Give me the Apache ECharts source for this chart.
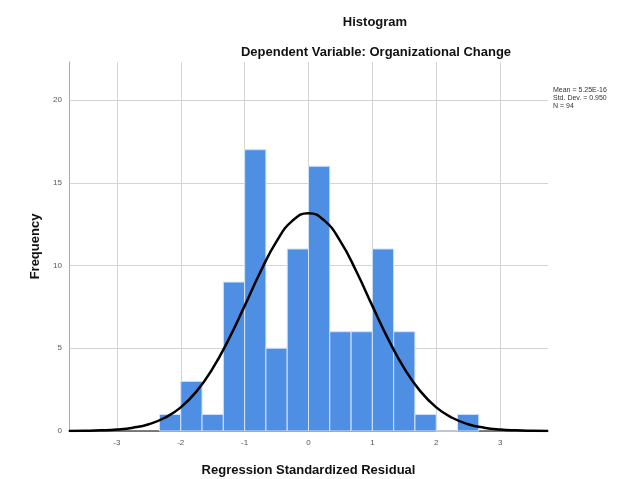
<!DOCTYPE html>
<html><head><meta charset="utf-8">
<script src="https://cdn.jsdelivr.net/npm/echarts@6/dist/echarts.min.js"></script>
<style>html,body{margin:0;padding:0;background:#fff}#c{width:631px;height:479px}</style>
</head><body><div id="c"></div>
<script>
// Histogram bins (lower edges), bin width and counts
const binStarts = [-2.333, -2.0, -1.667, -1.333, -1.0, -0.667, -0.333, 0.0, 0.333, 0.667, 1.0, 1.333, 1.667, 2.0, 2.333];
const binWidth = 0.333;
const counts = [1, 3, 1, 9, 17, 5, 11, 16, 6, 6, 11, 6, 1, 0, 1];
// Normal curve
const curveX = [-3.75,-3.5,-3.25,-3,-2.75,-2.5,-2.25,-2,-1.75,-1.5,-1.25,-1,-0.75,-0.5,-0.25,0,0.25,0.5,0.75,1,1.25,1.5,1.75,2,2.25,2.5,2.75,3,3.25,3.5,3.75];
const curveY = [0.005,0.015,0.038,0.09,0.2,0.41,0.8,1.43,2.41,3.78,5.54,7.56,9.64,11.46,12.71,13.16,12.71,11.46,9.64,7.56,5.54,3.78,2.41,1.43,0.8,0.41,0.2,0.09,0.038,0.015,0.005];
const xTicks = [-3, -2, -1, 0, 1, 2, 3];
const yTicks = [0, 5, 10, 15, 20];
const statsText = ['Mean = 5.25E-16', 'Std. Dev. = 0.950', 'N = 94'];

const chart = echarts.init(document.getElementById('c'), null, {renderer: 'canvas'});
const font = 'Liberation Sans, Arial, sans-serif';
chart.setOption({
  animation: false,
  backgroundColor: '#fff',
  title: [
    {text: 'Histogram', left: 370, top: 11, textAlign: 'center',
     textStyle: {fontFamily: font, fontSize: 13, fontWeight: 'bold', color: '#111'}},
    {text: 'Dependent Variable: Organizational Change', left: 371, top: 41, textAlign: 'center',
     textStyle: {fontFamily: font, fontSize: 13, fontWeight: 'bold', color: '#111'}}
  ],
  grid: {left: 69, right: 83, top: 62, bottom: 48, outerBoundsMode: 'none', containLabel: false},
  xAxis: {
    type: 'value', min: -3.75, max: 3.75,
    name: 'Regression Standardized Residual', nameLocation: 'middle', nameGap: 33,
    nameTextStyle: {fontFamily: font, fontSize: 13, fontWeight: 'bold', color: '#111'},
    axisLine: {show: true, onZero: false, lineStyle: {color: '#555', width: 1.5}},
    axisTick: {show: false, customValues: xTicks},
    axisLabel: {customValues: xTicks, fontFamily: font, fontSize: 8, color: '#555', margin: 8,
      formatter: v => String(v)},
    splitLine: {show: true, lineStyle: {color: '#d4d4d4', width: 1}}
  },
  yAxis: {
    type: 'value', min: 0, max: 22.3,
    name: 'Frequency', nameLocation: 'middle', nameGap: 25, nameRotate: 90,
    nameTextStyle: {fontFamily: font, fontSize: 13, fontWeight: 'bold', color: '#111'},
    axisLine: {show: true, onZero: false, lineStyle: {color: '#aaa', width: 1}},
    axisTick: {show: false, customValues: yTicks},
    axisLabel: {customValues: yTicks, fontFamily: font, fontSize: 8, color: '#555', margin: 7},
    splitLine: {show: true, lineStyle: {color: '#d4d4d4', width: 1}}
  },
  graphic: [
    {type: 'text', left: 553, top: 86,
     style: {text: statsText.join('\n'), fontFamily: font, fontSize: 7, lineHeight: 8, fill: '#333'}}
  ],
  series: [
    {
      type: 'custom',
      data: binStarts.map((s, i) => [s, s + binWidth, counts[i]]),
      encode: {x: [0, 1], y: 2},
      renderItem: function (params, api) {
        const p0 = api.coord([api.value(0), api.value(2)]);
        const p1 = api.coord([api.value(1), 0]);
        return {
          type: 'rect',
          shape: {x: p0[0], y: p0[1], width: p1[0] - p0[0], height: p1[1] - p0[1]},
          style: {fill: '#4f8fe3', stroke: '#d2e2f7', lineWidth: 1}
        };
      },
      z: 2
    },
    {
      type: 'line',
      data: curveX.map((x, i) => [x, curveY[i]]),
      smooth: true, showSymbol: false, symbol: 'none',
      lineStyle: {color: '#000', width: 2.5},
      z: 3
    }
  ]
});
</script></body></html>
